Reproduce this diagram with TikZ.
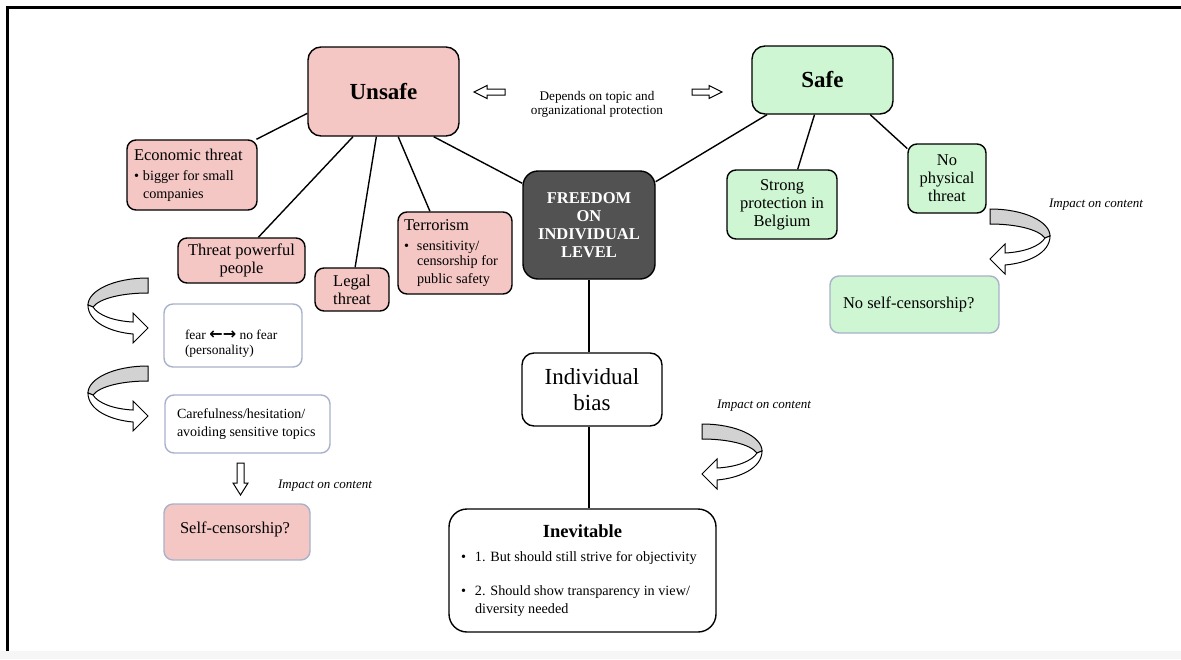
\documentclass[tikz,border=0pt]{standalone}
\usepackage{fontspec}
\setmainfont{Liberation Serif}
\newfontfamily\symfont{DejaVu Sans}

\definecolor{pinkfill}{RGB}{244,199,197}
\definecolor{greenfill}{RGB}{206,246,210}
\definecolor{darkfill}{RGB}{82,82,82}
\definecolor{softline}{RGB}{168,178,202}
\definecolor{bandgray}{RGB}{210,210,210}
\definecolor{stripgray}{RGB}{246,246,246}

% font sizes (1pt = one unit of the drawing)
\newcommand\fTitle{\fontsize{23}{26}\selectfont}
\newcommand\fMain{\fontsize{16.5}{18}\selectfont}
\newcommand\fSmall{\fontsize{14.2}{15}\selectfont}
\newcommand\fNote{\fontsize{13.2}{14}\selectfont}
\newcommand\fImpact{\fontsize{13}{14}\selectfont\itshape}
\newcommand\bulA{\makebox[9pt][l]{•}}
\newcommand\bulB{\makebox[13pt][l]{•}}
\newcommand\bulC{\makebox[14pt][l]{•}}

\tikzset{
  boxsize/.style n args={2}{minimum width=#1pt, minimum height=#2pt},
  card/.style={draw=black, line width=1.4pt, rounded corners=9pt, inner sep=0pt, font=\fMain, align=center},
  % left-aligned text block with normal word spacing
  leftblock/.style={align=left, text width=#1pt,
    execute at begin node={\spaceskip=0pt\xspaceskip=0pt}},
  pinkbox/.style={card, fill=pinkfill},
  greenbox/.style={card, fill=greenfill},
  darkbox/.style={card, fill=darkfill, text=white, font=\fMain\bfseries, rounded corners=15pt},
  whitebox/.style={card, fill=white},
  softbox/.style={card, draw=softline, fill=white},
  link/.style={line width=1.4pt},
  hollow/.style={draw=black, fill=white, line width=1pt, line join=miter},
  impact/.style={font=\fImpact, inner sep=0pt},
  curvarr/.pic={
    \fill[bandgray, draw=black, line width=1pt]
      (60,0) .. controls (25,0) and (0,13) .. (0,27) -- (5,29)
      .. controls (12,20) and (35,15) .. (60,15) -- cycle;
    \fill[white, draw=black, line width=1pt, line join=miter]
      (0,27) .. controls (0,44) and (22,54) .. (45,56) -- (45,65) -- (60,50)
      -- (45,35) -- (45,44) .. controls (25,43) and (10,37) .. (5,29) -- cycle;
  }
}

\begin{document}
\begin{tikzpicture}[x=1pt, y=-1pt]
  % page and frame
  \fill[white] (0,0) rectangle (1181,659);
  \useasboundingbox (0,0) rectangle (1181,659);
  \fill[stripgray] (0,651) rectangle (1181,659);
  \draw[line width=2.2pt] (7.5,651) -- (7.5,7.5) -- (1181,7.5);

  % top level
  \node[pinkbox, boxsize={151}{89}, rounded corners=13pt, font=\fTitle\bfseries] (unsafe) at (383.5,91.5) {Unsafe};
  \node[greenbox, boxsize={141}{68}, rounded corners=13pt, font=\fTitle\bfseries] (safe) at (822.5,80) {Safe};
  \node[font=\fNote, align=center, inner sep=0pt] (depends) at (597,104) {Depends on topic and\\organizational protection};

  % hollow arrows beside the note
  \draw[hollow] (474,92) -- (487,85.5) -- (487,89) -- (505,89) -- (505,95) -- (487,95) -- (487,98.5) -- cycle;
  \draw[hollow] (722,92) -- (709,85.5) -- (709,89) -- (692,89) -- (692,95) -- (709,95) -- (709,98.5) -- cycle;

  % centre
  \node[darkbox, boxsize={132}{108}] (freedom) at (589,225) {FREEDOM\\ON\\INDIVIDUAL\\LEVEL};

  % unsafe branch
  \node[pinkbox, boxsize={130}{70}, leftblock=116] (econ) at (192,175)
    {\fMain Economic threat\\[5pt]\fSmall\bulA bigger for small\\\hspace*{9pt}companies};
  \node[pinkbox, boxsize={127}{45}] (threat) at (241.5,260.5) {Threat powerful\\people};
  \node[pinkbox, boxsize={74}{43}] (legal) at (352,289.5) {Legal\\threat};
  \node[pinkbox, boxsize={114}{82}, leftblock=102] (terror) at (455,253)
    {\fMain Terrorism\\[5pt]\fSmall\bulB sensitivity/\\\hspace*{13pt}censorship for\\\hspace*{13pt}public safety};

  % safe branch
  \node[greenbox, boxsize={110}{69}] (strong) at (782,204.5) {Strong\\protection in\\Belgium};
  \node[greenbox, boxsize={78}{69}] (nophys) at (947,178.5) {No\\physical\\threat};
  \node[greenbox, draw=softline, boxsize={169}{57}, leftblock=143] (noself) at (914.5,304.5) {No self-censorship?};

  % individual bias
  \node[whitebox, boxsize={140}{73}, font=\fTitle, rounded corners=12pt] (bias) at (592,389.5) {Individual\\bias};
  \node[whitebox, boxsize={267}{123}, rounded corners=18pt, leftblock=243] (inev) at (582.5,570.5)
    {\makebox[243pt]{\fontsize{18.5}{20}\selectfont\bfseries Inevitable}\\[9pt]
     \fSmall\bulC 1. But should still strive for objectivity\\[19pt]
     \bulC 2. Should show transparency in view/\\\hspace*{14pt}diversity needed};

  % left column
  \node[softbox, boxsize={138}{63}, leftblock=96, font=\fontsize{13.5}{15}\selectfont] (fear) at (233,335.5)
    {\raisebox{0pt}[25pt]{}fear {\symfont\bfseries\fontsize{16}{15}\selectfont ←→} no fear\\(personality)};
  \node[softbox, boxsize={165}{58}, leftblock=141, font=\fontsize{14}{18}\selectfont] (careful) at (247.5,424)
    {Carefulness/hesitation/\\avoiding sensitive topics};
  \node[pinkbox, draw=softline, boxsize={146}{56}, leftblock=114] (selfc) at (237,532)
    {Self-censorship?\vspace*{6pt}};

  % connectors
  \draw[link] (unsafe.196) -- (econ.29);
  \draw[link] (unsafe.236.5) -- (threat.54);
  \draw[link] (unsafe.261.7) -- (legal.82);
  \draw[link] (unsafe.288) -- (terror.121);
  \draw[link] (unsafe.318.6) -- (freedom.148);
  \draw[link] (safe.212) -- (freedom.33);
  \draw[link] (safe.257.6) -- (strong.66.5);
  \draw[link] (safe.324) -- (nophys.143);
  \draw[link] (freedom.south) -- (freedom.south |- bias.north);
  \draw[link] ([xshift=-3pt]bias.south) -- ([xshift=-3pt]bias.south |- inev.north);

  % curved "impact" arrows
  \pic at (88,278) {curvarr};
  \pic at (88,366) {curvarr};
  \pic[xscale=-1] at (762,424) {curvarr};
  \pic[xscale=-1] at (1050,209) {curvarr};

  % down arrow to self-censorship
  \draw[hollow] (237,463) -- (244,463) -- (244,483) -- (248,483) -- (240.5,495) -- (233,483) -- (237,483) -- cycle;

  % impact labels
  \node[impact] (imp1) at (325,486) {Impact on content};
  \node[impact] (imp2) at (764,406) {Impact on content};
  \node[impact] (imp3) at (1096,205) {Impact on content};
\end{tikzpicture}
\end{document}
